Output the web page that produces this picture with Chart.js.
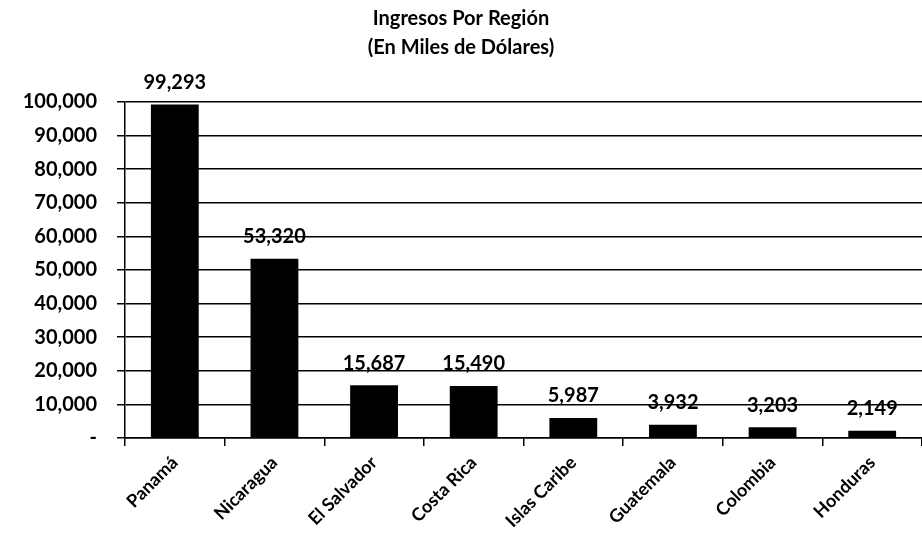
<!DOCTYPE html>
<html>
<head>
<meta charset="utf-8">
<script src="https://cdn.jsdelivr.net/npm/chart.js@4"></script>
<style>
  html, body { margin: 0; padding: 0; background: #fff; }
  #wrap { width: 922px; height: 560px; }
</style>
</head>
<body>
<div id="wrap"><canvas id="graph-canvas"></canvas></div>
<script>
const regiones = ['Panamá', 'Nicaragua', 'El Salvador', 'Costa Rica', 'Islas Caribe', 'Guatemala', 'Colombia', 'Honduras'];
const ingresos = [99293, 53320, 15687, 15490, 5987, 3932, 3203, 2149];
const tituloLineas = ['Ingresos Por Región', '(En Miles de Dólares)'];

const FONT = 'Lato, "Open Sans", sans-serif';
const fmt = v => v.toLocaleString('en-US');

// value labels above each bar
const barLabels = {
  id: 'barLabels',
  afterDatasetsDraw(chart) {
    const ctx = chart.ctx;
    const meta = chart.getDatasetMeta(0);
    ctx.save();
    ctx.font = 'bold 20px ' + FONT;
    ctx.fillStyle = '#000';
    ctx.textAlign = 'center';
    ctx.textBaseline = 'middle';
    meta.data.forEach((bar, i) => {
      ctx.fillText(fmt(ingresos[i]), bar.x, bar.y - 22);
    });
    ctx.restore();
  }
};

new Chart(document.getElementById('graph-canvas'), {
  type: 'bar',
  data: {
    labels: regiones,
    datasets: [{
      data: ingresos,
      backgroundColor: '#000',
      borderWidth: 0,
      categoryPercentage: 1,
      barPercentage: 0.48
    }]
  },
  options: {
    responsive: true,
    maintainAspectRatio: false,
    animation: false,
    layout: { padding: { left: 0, right: 0, top: 0, bottom: 0 } },
    plugins: {
      legend: { display: false },
      tooltip: { enabled: false },
      title: {
        display: true,
        text: tituloLineas,
        color: '#000',
        font: { family: FONT, size: 20, weight: 'bold', lineHeight: 1.45 },
        padding: { top: 4, bottom: 40 }
      }
    },
    scales: {
      x: {
        afterFit(scale) { scale.height = 122; },
        grid: {
          display: true,
          drawOnChartArea: false,
          color: '#000',
          lineWidth: 1.5,
          tickLength: 8,
          offset: true
        },
        border: { color: '#000', width: 1.5 },
        ticks: {
          color: '#000',
          font: { family: FONT, size: 18, weight: 'bold' },
          minRotation: 45,
          maxRotation: 45,
          padding: 6
        }
      },
      y: {
        min: 0,
        max: 100000,
        afterFit(scale) { scale.width = 125; },
        grid: {
          color: '#000',
          lineWidth: 1.5,
          tickLength: 8
        },
        border: { color: '#000', width: 1.5 },
        ticks: {
          stepSize: 10000,
          color: '#000',
          font: { family: FONT, size: 20, weight: 'bold' },
          padding: 20,
          callback: v => v === 0 ? '-' : fmt(v)
        }
      }
    }
  },
  plugins: [barLabels]
});
</script>
</body>
</html>
